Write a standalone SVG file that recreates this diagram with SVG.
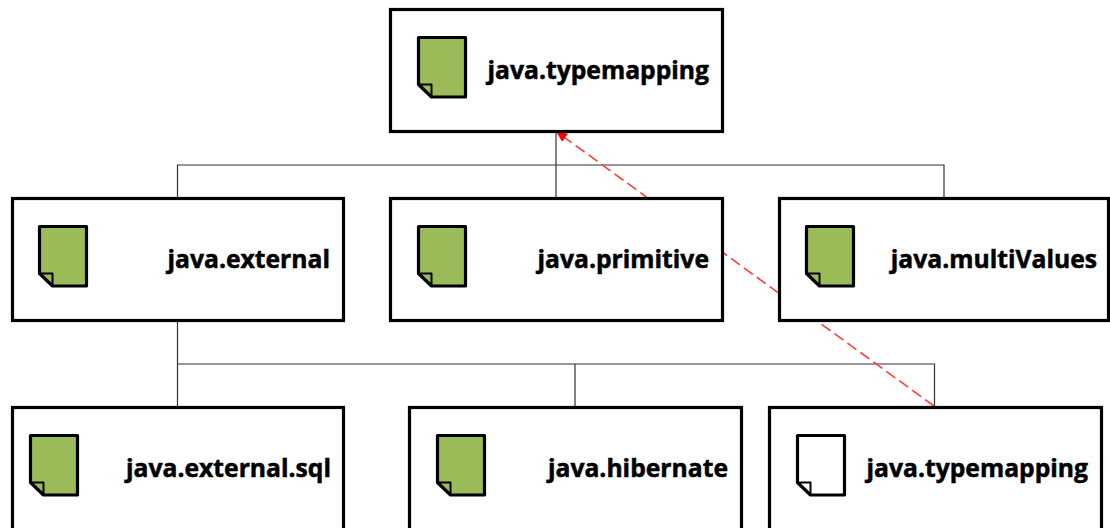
<svg xmlns="http://www.w3.org/2000/svg" width="1110" height="528" viewBox="0 0 1110 528">
<style>
.box{fill:#fff;stroke:#000;stroke-width:3.2}
.doc{stroke:#000;stroke-width:3.2;stroke-linejoin:round}
.fold{fill:none;stroke:#000;stroke-width:2;stroke-linejoin:round}
.green{fill:#9bbb59}
.white{fill:#fff}
.lbl{font-family:"Open Sans","Noto Sans","DejaVu Sans",sans-serif;font-weight:700;font-size:24.700px;fill:#000;text-anchor:end;stroke:#000;stroke-width:.5}
.link{fill:none;stroke:#333;stroke-width:1.2}
.dep{fill:none;stroke:#ff3b3b;stroke-width:1.6;stroke-dasharray:11 5}
</style>
<defs>
<path id="page" d="M0 0H47V59.500H13L0 47Z"/>
<path id="corner" d="M1 47H13V58.500" class="fold"/>
<marker id="tip" markerWidth="12" markerHeight="10" refX="10" refY="5" orient="auto" markerUnits="userSpaceOnUse"><path d="M0 0L11 5L0 10Z" fill="#f00"/></marker>
</defs>
<g id="connectors">
<path class="link" d="M556 131V198M177.500 198V165H944V198"/>
<path class="link" d="M177.500 321V407M177.500 364H934.500V407M575 364V407"/>
<path class="dep" d="M934 406L557 132" marker-end="url(#tip)"/>
</g>
<g id="node-top"><rect class="box" x="390.500" y="9.500" width="332" height="122"/><use href="#page" class="doc green" x="418.500" y="37.500"/><use href="#corner" x="418.500" y="37.500"/><text class="lbl" x="709" y="79">java.typemapping</text></g>
<g id="node-external"><rect class="box" x="12.500" y="198.500" width="331" height="122"/><use href="#page" class="doc green" x="39.500" y="226.500"/><use href="#corner" x="39.500" y="226.500"/><text class="lbl" x="330" y="268">java.external</text></g>
<g id="node-primitive"><rect class="box" x="390.500" y="198.500" width="332" height="122"/><use href="#page" class="doc green" x="418.500" y="226.500"/><use href="#corner" x="418.500" y="226.500"/><text class="lbl" x="709" y="268">java.primitive</text></g>
<g id="node-multivalues"><rect class="box" x="779.500" y="198.500" width="329" height="122"/><use href="#page" class="doc green" x="806.500" y="226.500"/><use href="#corner" x="806.500" y="226.500"/><text class="lbl" x="1097" y="268">java.multiValues</text></g>
<g id="node-sql"><rect class="box" x="12.500" y="407.500" width="331" height="130"/><use href="#page" class="doc green" x="30.500" y="435.500"/><use href="#corner" x="30.500" y="435.500"/><text class="lbl" x="331" y="477">java.external.sql</text></g>
<g id="node-hibernate"><rect class="box" x="409.500" y="407.500" width="332" height="130"/><use href="#page" class="doc green" x="437.500" y="435.500"/><use href="#corner" x="437.500" y="435.500"/><text class="lbl" x="728" y="477">java.hibernate</text></g>
<g id="node-typemapping-ref"><rect class="box" x="769.500" y="407.500" width="332" height="130"/><use href="#page" class="doc white" x="797.500" y="435.500"/><use href="#corner" x="797.500" y="435.500"/><text class="lbl" x="1088" y="477">java.typemapping</text></g>
</svg>
